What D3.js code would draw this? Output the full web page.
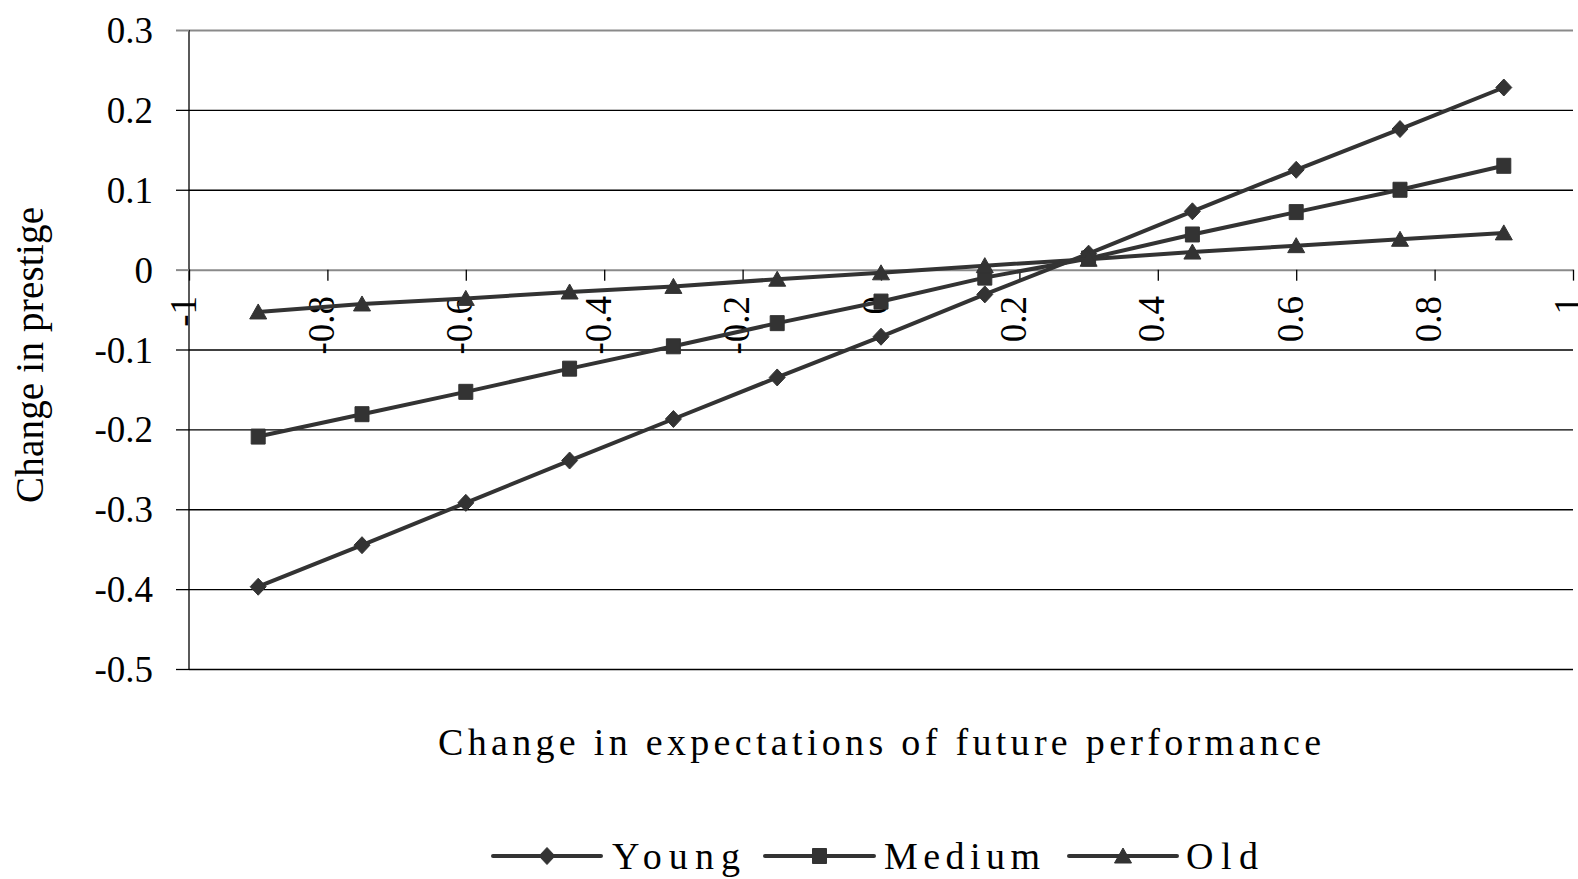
<!DOCTYPE html>
<html>
<head>
<meta charset="utf-8">
<script src="https://cdn.jsdelivr.net/npm/d3@7"></script>
<style>
  html, body { margin: 0; padding: 0; background: #fff; }
  svg { display: block; }
  text { font-family: "Liberation Serif", "Times New Roman", serif; fill: #000; }
</style>
</head>
<body>
<svg id="chart" width="1578" height="879"></svg>
<script>
// ---- data ----
const xValues = [-0.9, -0.75, -0.6, -0.45, -0.3, -0.15, 0, 0.15, 0.3, 0.45, 0.6, 0.75, 0.9];
const young  = [-0.397, -0.345, -0.292, -0.239, -0.187, -0.135, -0.084, -0.031, 0.020, 0.073, 0.125, 0.176, 0.228];
const medium = [-0.209, -0.181, -0.153, -0.124, -0.096, -0.067, -0.040, -0.010, 0.014, 0.044, 0.072, 0.100, 0.130];
const old    = [-0.053, -0.043, -0.036, -0.028, -0.021, -0.012, -0.004, 0.005, 0.013, 0.022, 0.030, 0.038, 0.046];
const seriesNames = ["Young", "Medium", "Old"];
const markerTypes = ["diamond", "square", "triangle"];
const xTicks = [-1, -0.8, -0.6, -0.4, -0.2, 0, 0.2, 0.4, 0.6, 0.8, 1];
const yTicks = [-0.5, -0.4, -0.3, -0.2, -0.1, 0, 0.1, 0.2, 0.3];
const xTitle = "Change in expectations of future performance";
const yTitle = "Change in prestige";

const series = [young, medium, old].map((vals, i) => ({
  name: seriesNames[i], marker: markerTypes[i],
  points: xValues.map((xv, j) => ({ x: xv, y: vals[j] }))
}));

// ---- layout ----
const svg = d3.select("#chart");
const pLeft = 189, pRight = 1573, pTop = 30, pBottom = 669;
const x = d3.scaleLinear().domain([-1, 1]).range([pLeft, pRight]);
const y = d3.scaleLinear().domain([-0.5, 0.3]).range([pBottom, pTop]);
const lineColor = "#333333";
const fmt = d => (d === 0 ? "0" : String(d));
const isGray = d => (d === 0 || d === 0.3);

function markerPath(type) {
  if (type === "diamond") return "M0,-8.5L8,0L0,8.5L-8,0Z";
  if (type === "square") return "M-7,-7.5H7V7.5H-7Z";
  return "M0,-8L8.5,7H-8.5Z";
}

// gridlines
const grid = svg.append("g").attr("transform", `translate(${pLeft},0)`)
  .call(d3.axisLeft(y).tickValues(yTicks).tickSize(-(pRight - pLeft)).tickFormat(""));
grid.select(".domain").remove();
grid.selectAll(".tick line")
  .attr("stroke", d => isGray(d) ? "#8a8a8a" : "#000")
  .attr("stroke-width", d => isGray(d) ? 2 : 1.3);

// y axis
const yAxis = svg.append("g").attr("transform", `translate(${pLeft},0)`)
  .call(d3.axisLeft(y).tickValues(yTicks).tickSize(13).tickPadding(23).tickFormat(fmt));
yAxis.select(".domain").attr("stroke", "#000").attr("stroke-width", 1.3)
  .attr("d", `M0,${pTop}V${pBottom}`);
yAxis.selectAll(".tick line")
  .attr("stroke", d => isGray(d) ? "#8a8a8a" : "#000")
  .attr("stroke-width", d => isGray(d) ? 2 : 1.3);
yAxis.selectAll(".tick text")
  .attr("font-size", 37).attr("font-family", "Liberation Serif, serif")
  .attr("fill", "#000").attr("dy", "0.34em");

// x axis on y=0
const xAxis = svg.append("g").attr("transform", `translate(0,${y(0)})`)
  .call(d3.axisBottom(x).tickValues(xTicks).tickSize(11).tickFormat(fmt));
xAxis.select(".domain").remove();
xAxis.selectAll(".tick line").attr("stroke", "#000").attr("stroke-width", 1.3);
xAxis.selectAll(".tick text")
  .attr("font-size", 37).attr("font-family", "Liberation Serif, serif").attr("fill", "#000")
  .attr("x", 0).attr("y", 0).attr("dy", "0.34em")
  .attr("text-anchor", "end")
  .attr("transform", `translate(-6.5,${296 - y(0)}) rotate(-90)`);

// lines
const line = d3.line().x(d => x(d.x)).y(d => y(d.y));
const sg = svg.append("g").selectAll("g.series").data(series).join("g").attr("class", "series");
sg.append("path")
  .attr("d", d => line(d.points))
  .attr("fill", "none").attr("stroke", lineColor).attr("stroke-width", 4)
  .attr("stroke-linejoin", "round");
sg.each(function (s) {
  d3.select(this).selectAll("path.m").data(s.points).join("path").attr("class", "m")
    .attr("d", markerPath(s.marker))
    .attr("transform", d => `translate(${x(d.x)},${y(d.y)})`)
    .attr("fill", lineColor).attr("stroke", lineColor).attr("stroke-width", 1)
    .attr("stroke-linejoin", "round");
});

// titles
svg.append("text")
  .attr("x", 438).attr("y", 755)
  .attr("font-size", 38)
  .attr("textLength", 883).attr("lengthAdjust", "spacing")
  .text(xTitle);

svg.append("text")
  .attr("transform", "translate(43,355) rotate(-90)")
  .attr("text-anchor", "middle")
  .attr("font-size", 39)
  .attr("textLength", 296).attr("lengthAdjust", "spacing")
  .text(yTitle);

// legend
const legendItems = [
  { x0: 493, x1: 601, tx: 612, tl: 128 },
  { x0: 765, x1: 874, tx: 884, tl: 156 },
  { x0: 1069, x1: 1177, tx: 1186, tl: 72 }
];
const ly = 856;
const lg = svg.append("g").selectAll("g").data(series).join("g");
lg.append("line")
  .attr("x1", (d, i) => legendItems[i].x0).attr("x2", (d, i) => legendItems[i].x1)
  .attr("y1", ly).attr("y2", ly)
  .attr("stroke", lineColor).attr("stroke-width", 4).attr("stroke-linecap", "round");
lg.append("path")
  .attr("d", d => markerPath(d.marker))
  .attr("transform", (d, i) => `translate(${(legendItems[i].x0 + legendItems[i].x1) / 2},${ly})`)
  .attr("fill", lineColor).attr("stroke", lineColor).attr("stroke-width", 1);
lg.append("text")
  .attr("x", (d, i) => legendItems[i].tx).attr("y", 869)
  .attr("font-size", 38)
  .attr("textLength", (d, i) => legendItems[i].tl).attr("lengthAdjust", "spacing")
  .text(d => d.name);
</script>
</body>
</html>
